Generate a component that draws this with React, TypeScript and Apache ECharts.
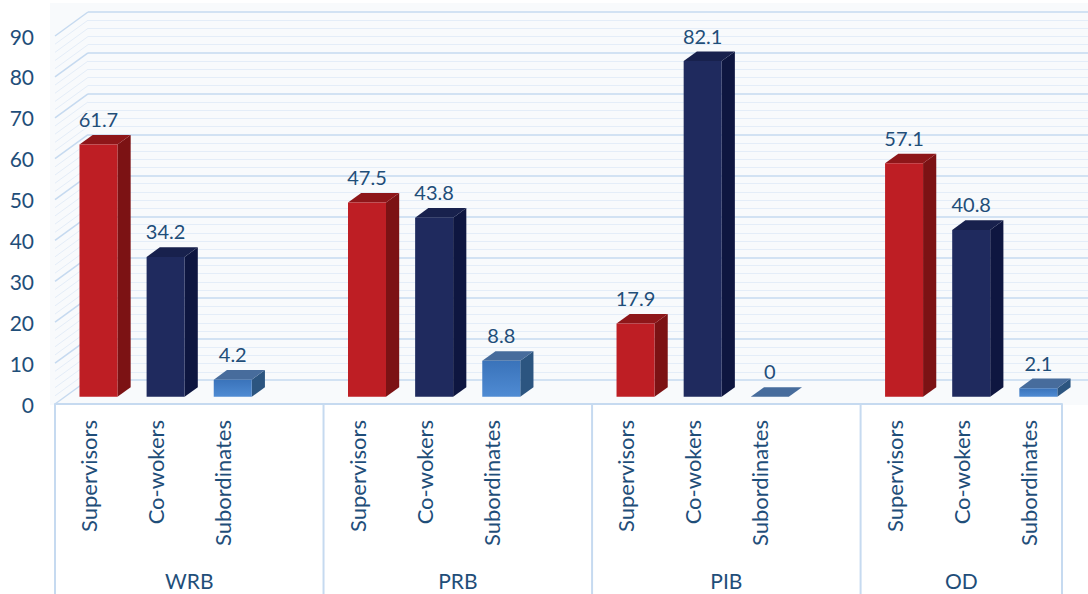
import React, { useEffect, useRef } from 'react';
import * as echarts from 'echarts';

const groups = ['WRB', 'PRB', 'PIB', 'OD'];
const roles = ['Supervisors', 'Co-wokers', 'Subordinates'];
const supervisors = [61.7, 47.5, 17.9, 57.1];
const coworkers = [34.2, 43.8, 82.1, 40.8];
const subordinates = [4.2, 8.8, 0, 2.1];
const yTicks = [0, 10, 20, 30, 40, 50, 60, 70, 80, 90];

const roleValues = [supervisors, coworkers, subordinates];
const FONT = 'Lato';
const TEXT = '#1F4E79';
const MAJOR = '#C6DAF0';
const MINOR = '#E4EDF8';
const DX = 33;
const DY = 24;

const colors = [
  { front: '#BE1E24', side: '#7C1214', top: '#8E1619' },
  { front: '#1F2A5E', side: '#0E1640', top: '#18214D' },
  { front: '#3F7CC6', side: '#2C5580', top: '#476C9C' },
];

// build slots (blank slot between groups)
const slots: string[] = [];
const barData: any[] = [];
const groupData: any[] = [];
groups.forEach((g, gi) => {
  const start = slots.length;
  roles.forEach((r, ri) => {
    barData.push({ value: [slots.length, roleValues[ri][gi], ri] });
    slots.push(r);
  });
  if (gi < groups.length - 1) slots.push('');
  groupData.push({ value: [start, slots.length, gi] });
});

const wallValues: number[] = [];
for (let v = yTicks[0]; v <= yTicks[yTicks.length - 1]; v += 2) wallValues.push(v);

export default function App() {
  const ref = useRef<HTMLDivElement>(null);
  useEffect(() => {
    const chart = echarts.init(ref.current!, null, { renderer: 'svg' });
    const yMin = yTicks[0];
    const yMax = yTicks[yTicks.length - 1];
    const option: any = {
      animation: false,
      backgroundColor: '#FFFFFF',
      graphic: [
        {
          type: 'rect',
          shape: { x: 50, y: 3, width: 1040, height: 402 },
          style: { fill: '#F8FAFC' },
          z: -10,
          silent: true,
        },
      ],
      grid: [
        { left: 55, top: 36, width: 1007, height: 368 },
        { left: 88, top: 12, width: 1007, height: 368 },
      ],
      xAxis: [
        {
          type: 'category',
          gridIndex: 0,
          data: slots,
          boundaryGap: true,
          axisLine: { show: true, lineStyle: { color: MAJOR, width: 2 } },
          axisTick: { show: false },
          axisLabel: {
            interval: 0,
            rotate: 90,
            margin: 16,
            fontSize: 22,
            fontFamily: FONT,
            color: TEXT,
          },
          splitLine: { show: false },
        },
        { type: 'value', gridIndex: 0, min: 0, max: slots.length, show: false },
        { type: 'value', gridIndex: 1, min: 0, max: 1, show: false },
      ],
      yAxis: [
        {
          type: 'value',
          gridIndex: 0,
          min: yMin,
          max: yMax,
          interval: 10,
          axisLine: { show: false },
          axisTick: { show: false },
          splitLine: { show: false },
          axisLabel: { fontSize: 21, fontFamily: FONT, color: TEXT, margin: 21 },
        },
        {
          type: 'value',
          gridIndex: 1,
          min: yMin,
          max: yMax,
          interval: 10,
          axisLine: { show: false },
          axisTick: { show: false },
          axisLabel: { show: false },
          splitLine: { show: true, lineStyle: { color: MAJOR, width: 1.5 } },
          minorTick: { show: false, splitNumber: 5 },
          minorSplitLine: { show: true, lineStyle: { color: MINOR, width: 1 } },
        },
      ],
      series: [
        {
          type: 'custom',
          name: 'sidewall',
          xAxisIndex: 1,
          yAxisIndex: 0,
          silent: true,
          clip: false,
          z: 1,
          data: wallValues.map((v) => [0, v]),
          renderItem: (params: any, api: any) => {
            const v = api.value(1);
            const p = api.coord([0, v]);
            const major = v % 10 === 0;
            return {
              type: 'line',
              shape: { x1: p[0], y1: p[1], x2: p[0] + DX, y2: p[1] - DY },
              style: { stroke: major ? MAJOR : MINOR, lineWidth: major ? 1.5 : 1 },
            };
          },
        },
        {
          type: 'custom',
          name: 'bars',
          xAxisIndex: 0,
          yAxisIndex: 0,
          clip: false,
          z: 3,
          data: barData,
          renderItem: (params: any, api: any) => {
            const idx = api.value(0);
            const v = api.value(1);
            const role = api.value(2);
            const c = colors[role];
            const base = api.coord([idx, 0]);
            const top = api.coord([idx, v]);
            const slot = api.size([1, 0])[0];
            const w = slot * 0.566;
            const x0 = base[0] + 0.3 * DX - w / 2;
            const x1 = x0 + w;
            const yb = base[1] - 0.3 * DY;
            const yt = top[1] - 0.3 * DY;
            const ddx = 0.4 * DX;
            const ddy = 0.4 * DY;
            const frontFill =
              role === 2
                ? new echarts.graphic.LinearGradient(0, 0, 0, 1, [
                    { offset: 0, color: '#3A73BA' },
                    { offset: 1, color: '#4F8BD3' },
                  ])
                : c.front;
            return {
              type: 'group',
              children: [
                {
                  type: 'polygon',
                  shape: { points: [[x1, yb], [x1, yt], [x1 + ddx, yt - ddy], [x1 + ddx, yb - ddy]] },
                  style: { fill: c.side },
                },
                {
                  type: 'polygon',
                  shape: { points: [[x0, yt], [x1, yt], [x1 + ddx, yt - ddy], [x0 + ddx, yt - ddy]] },
                  style: { fill: c.top },
                },
                {
                  type: 'rect',
                  shape: { x: x0, y: yt, width: w, height: Math.max(0, yb - yt) },
                  style: { fill: frontFill },
                },
                {
                  type: 'text',
                  x: x0 + w / 2,
                  y: yt - ddy - 16,
                  style: {
                    text: String(v),
                    fill: TEXT,
                    fontSize: 20,
                    fontFamily: FONT,
                    align: 'center',
                    verticalAlign: 'middle',
                  },
                },
              ],
            };
          },
        },
        {
          type: 'custom',
          name: 'groups',
          xAxisIndex: 1,
          yAxisIndex: 0,
          silent: true,
          clip: false,
          z: 2,
          data: groupData,
          renderItem: (params: any, api: any) => {
            const s = api.value(0);
            const e = api.value(1);
            const gi = api.value(2);
            const ps = api.coord([s, 0]);
            const pe = api.coord([e, 0]);
            const children: any[] = [
              {
                type: 'line',
                shape: { x1: ps[0], y1: ps[1], x2: ps[0], y2: 594 },
                style: { stroke: MAJOR, lineWidth: 2 },
              },
              {
                type: 'text',
                x: (ps[0] + pe[0]) / 2,
                y: 580,
                style: {
                  text: groups[gi],
                  fill: TEXT,
                  fontSize: 21,
                  fontFamily: FONT,
                  align: 'center',
                  verticalAlign: 'middle',
                },
              },
            ];
            if (gi === groups.length - 1) {
              children.push({
                type: 'line',
                shape: { x1: pe[0], y1: pe[1], x2: pe[0], y2: 594 },
                style: { stroke: MAJOR, lineWidth: 2 },
              });
            }
            return { type: 'group', children };
          },
        },
      ],
    };
    chart.setOption(option);
    return () => chart.dispose();
  }, []);
  return (
    <div
      ref={ref}
      style={{ position: 'fixed', left: 0, top: 0, width: 1088, height: 594 }}
    />
  );
}
